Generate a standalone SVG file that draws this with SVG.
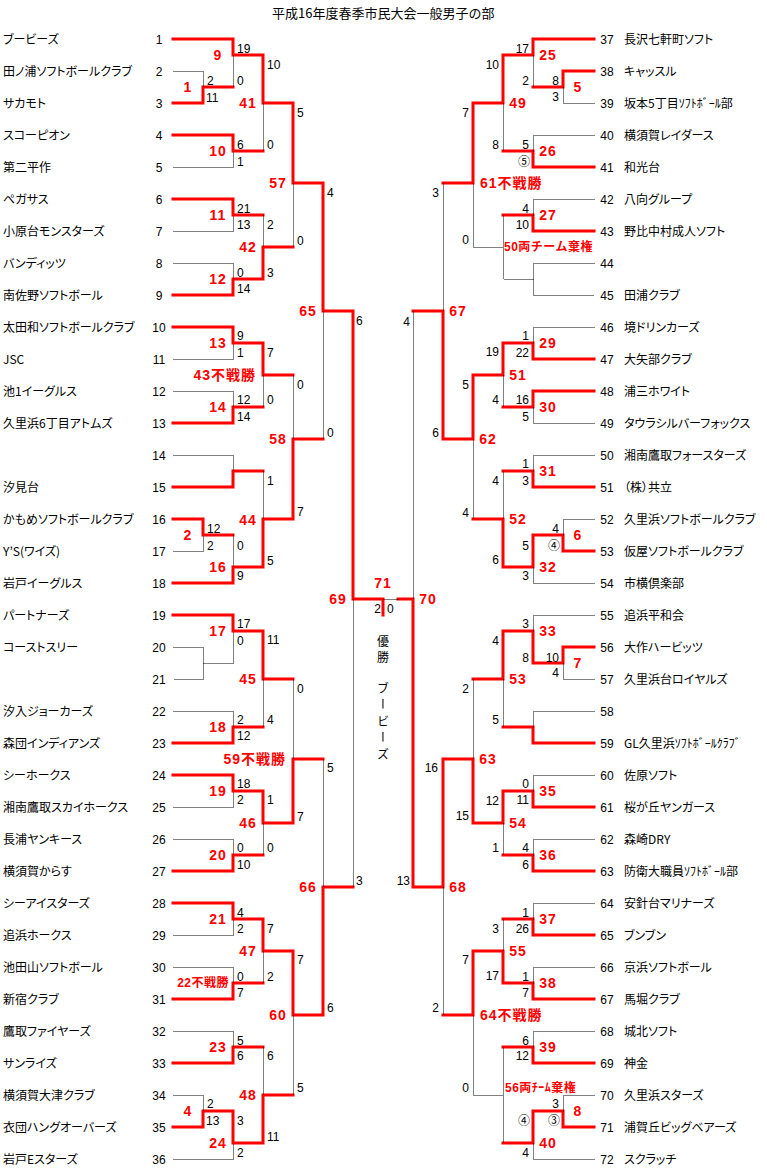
<svg xmlns="http://www.w3.org/2000/svg" width="767" height="1176" viewBox="0 0 767 1176">
<style>
.r{fill:none;stroke:#ff0000;stroke-width:3;stroke-linejoin:miter;stroke-linecap:square}
.d{fill:none;stroke:#000;stroke-width:1;stroke-dasharray:1 1}
.nm{font-family:"Noto Sans CJK JP",sans-serif;font-size:12px;font-feature-settings:"palt";fill:#000}
.no{font-family:"Liberation Sans","Noto Sans CJK JP",sans-serif;font-size:12px;text-anchor:middle;fill:#000}
.sl{font-family:"Liberation Sans","Noto Sans CJK JP",sans-serif;font-size:12px;text-anchor:start;fill:#000}
.sr{font-family:"Liberation Sans","Noto Sans CJK JP",sans-serif;font-size:12px;text-anchor:end;fill:#000}
.w{font-family:"Liberation Sans","Noto Sans CJK JP",sans-serif;font-size:14px;font-weight:bold;fill:#ff0000;letter-spacing:1px;text-anchor:middle}
.we{font-family:"Liberation Sans","Noto Sans CJK JP",sans-serif;font-size:14px;font-weight:bold;fill:#ff0000;letter-spacing:1px;text-anchor:end}
.ws{font-family:"Liberation Sans","Noto Sans CJK JP",sans-serif;font-size:14px;font-weight:bold;fill:#ff0000;letter-spacing:1px;text-anchor:start}
.sm{font-size:12px;letter-spacing:0.5px}
.t{font-family:"Noto Sans CJK JP",sans-serif;font-size:13px;fill:#000}
.v{font-family:"Noto Sans CJK JP",sans-serif;font-size:12px;fill:#000;writing-mode:vertical-rl}
</style>
<rect width="767" height="1176" fill="#fff"/>
<g id="title"><text class="t" x="272" y="18">平成16年度春季市民大会一般男子の部</text></g>

<g id="connectors">
<g id="red-lines">
<path class="r" d="M173 39H233V55H263V103H293V183H323V311H353V599H383V615"/>
<path class="r" d="M173 103H203V87H233"/>
<path class="r" d="M173 135H233V151H263"/>
<path class="r" d="M173 199H233V215H263"/>
<path class="r" d="M173 295H233V279H263V247H293"/>
<path class="r" d="M173 327H233V343H263V375H293"/>
<path class="r" d="M173 423H233V407H263"/>
<path class="r" d="M173 487H233V471H263"/>
<path class="r" d="M173 519H203V535H233"/>
<path class="r" d="M173 583H233V567H263V519H293V439H323"/>
<path class="r" d="M173 615H233V631H263V679H293"/>
<path class="r" d="M173 743H233V727H263"/>
<path class="r" d="M173 775H233V791H263V823H293V759H323"/>
<path class="r" d="M173 871H233V855H263"/>
<path class="r" d="M173 903H233V919H263V951H293V1015H323V887H353"/>
<path class="r" d="M173 999H233V983H263"/>
<path class="r" d="M173 1063H233V1047H263"/>
<path class="r" d="M173 1127H203V1111H233V1143H263V1095H293"/>
<path class="r" d="M594 39H533V55H503V103H473V183H443"/>
<path class="r" d="M594 71H563V87H533"/>
<path class="r" d="M594 167H533V151H503"/>
<path class="r" d="M594 231H533V215H503"/>
<path class="r" d="M594 359H533V343H503V375H473V439H443V311H413"/>
<path class="r" d="M594 391H533V407H503"/>
<path class="r" d="M594 487H533V471H503"/>
<path class="r" d="M594 551H563V535H533V567H503V519H473"/>
<path class="r" d="M594 647H563V663H533V631H503V679H473"/>
<path class="r" d="M594 743H533V727H503"/>
<path class="r" d="M594 807H533V791H503V823H473V759H443V887H413V599H398"/>
<path class="r" d="M594 871H533V855H503"/>
<path class="r" d="M594 935H533V919H503"/>
<path class="r" d="M594 999H533V983H503V951H473V1015H443"/>
<path class="r" d="M594 1063H533V1047H503"/>
<path class="r" d="M594 1127H563V1111H533V1143H503"/>
</g>
<g id="dotted-lines" transform="translate(0.5 0.5)">
<path class="d" d="M173 71H203V87"/>
<path class="d" d="M233 55V87"/>
<path class="d" d="M263 103V151"/>
<path class="d" d="M173 167H233V151"/>
<path class="d" d="M293 183V247"/>
<path class="d" d="M173 231H233V215"/>
<path class="d" d="M263 215V247"/>
<path class="d" d="M173 263H233V279"/>
<path class="d" d="M323 311V439"/>
<path class="d" d="M173 359H233V343"/>
<path class="d" d="M263 375V407"/>
<path class="d" d="M173 391H233V407"/>
<path class="d" d="M293 375V439"/>
<path class="d" d="M173 455H233V471"/>
<path class="d" d="M263 471V519"/>
<path class="d" d="M173 551H203V535"/>
<path class="d" d="M233 535V567"/>
<path class="d" d="M353 599V887"/>
<path class="d" d="M173 647H203V679H173M203 663H233V631"/>
<path class="d" d="M263 679V727"/>
<path class="d" d="M173 711H233V727"/>
<path class="d" d="M293 679V759"/>
<path class="d" d="M173 807H233V791"/>
<path class="d" d="M263 823V855"/>
<path class="d" d="M173 839H233V855"/>
<path class="d" d="M323 759V887"/>
<path class="d" d="M173 935H233V919"/>
<path class="d" d="M263 951V983"/>
<path class="d" d="M173 967H233V983"/>
<path class="d" d="M293 1015V1095"/>
<path class="d" d="M173 1031H233V1047"/>
<path class="d" d="M263 1047V1095"/>
<path class="d" d="M173 1095H203V1111"/>
<path class="d" d="M173 1159H233V1143"/>
<path class="d" d="M383 599H398"/>
<path class="d" d="M594 103H563V87"/>
<path class="d" d="M533 55V87"/>
<path class="d" d="M503 103V151"/>
<path class="d" d="M594 135H533V151"/>
<path class="d" d="M473 183V247H503"/>
<path class="d" d="M594 199H533V215"/>
<path class="d" d="M503 215V279"/>
<path class="d" d="M594 263H533V295H594M533 279H503"/>
<path class="d" d="M443 183V311"/>
<path class="d" d="M413 311V599"/>
<path class="d" d="M594 327H533V343"/>
<path class="d" d="M503 375V407"/>
<path class="d" d="M594 423H533V407"/>
<path class="d" d="M473 439V519"/>
<path class="d" d="M594 455H533V471"/>
<path class="d" d="M503 471V519"/>
<path class="d" d="M594 519H563V535"/>
<path class="d" d="M594 583H533V567"/>
<path class="d" d="M594 615H533V631"/>
<path class="d" d="M594 679H563V663"/>
<path class="d" d="M473 679V759"/>
<path class="d" d="M503 679V727"/>
<path class="d" d="M594 711H533V727"/>
<path class="d" d="M594 775H533V791"/>
<path class="d" d="M503 823V855"/>
<path class="d" d="M594 839H533V855"/>
<path class="d" d="M443 887V1015"/>
<path class="d" d="M594 903H533V919"/>
<path class="d" d="M503 919V951"/>
<path class="d" d="M594 967H533V983"/>
<path class="d" d="M473 1015V1095H503"/>
<path class="d" d="M594 1031H533V1047"/>
<path class="d" d="M503 1047V1143"/>
<path class="d" d="M594 1095H563V1111"/>
<path class="d" d="M594 1159H533V1143"/>
</g>
</g>

<g id="teams">
<g id="team-1"><text class="nm" x="3" y="44">ブービーズ</text><text class="no" x="159" y="44">1</text></g>
<g id="team-2"><text class="nm" x="3" y="76">田ノ浦ソフトボールクラブ</text><text class="no" x="159" y="76">2</text></g>
<g id="team-3"><text class="nm" x="3" y="108">サカモト</text><text class="no" x="159" y="108">3</text></g>
<g id="team-4"><text class="nm" x="3" y="140">スコーピオン</text><text class="no" x="159" y="140">4</text></g>
<g id="team-5"><text class="nm" x="3" y="172">第二平作</text><text class="no" x="159" y="172">5</text></g>
<g id="team-6"><text class="nm" x="3" y="204">ペガサス</text><text class="no" x="159" y="204">6</text></g>
<g id="team-7"><text class="nm" x="3" y="236">小原台モンスターズ</text><text class="no" x="159" y="236">7</text></g>
<g id="team-8"><text class="nm" x="3" y="268">バンディッツ</text><text class="no" x="159" y="268">8</text></g>
<g id="team-9"><text class="nm" x="3" y="300">南佐野ソフトボール</text><text class="no" x="159" y="300">9</text></g>
<g id="team-10"><text class="nm" x="3" y="332">太田和ソフトボールクラブ</text><text class="no" x="159" y="332">10</text></g>
<g id="team-11"><text class="nm" x="3" y="364">JSC</text><text class="no" x="159" y="364">11</text></g>
<g id="team-12"><text class="nm" x="3" y="396">池1イーグルス</text><text class="no" x="159" y="396">12</text></g>
<g id="team-13"><text class="nm" x="3" y="428">久里浜6丁目アトムズ</text><text class="no" x="159" y="428">13</text></g>
<g id="team-14"><text class="no" x="159" y="460">14</text></g>
<g id="team-15"><text class="nm" x="3" y="492">汐見台</text><text class="no" x="159" y="492">15</text></g>
<g id="team-16"><text class="nm" x="3" y="524">かもめソフトボールクラブ</text><text class="no" x="159" y="524">16</text></g>
<g id="team-17"><text class="nm" x="3" y="556">Y’S(ワイズ)</text><text class="no" x="159" y="556">17</text></g>
<g id="team-18"><text class="nm" x="3" y="588">岩戸イーグルス</text><text class="no" x="159" y="588">18</text></g>
<g id="team-19"><text class="nm" x="3" y="620">パートナーズ</text><text class="no" x="159" y="620">19</text></g>
<g id="team-20"><text class="nm" x="3" y="652">コーストスリー</text><text class="no" x="159" y="652">20</text></g>
<g id="team-21"><text class="no" x="159" y="684">21</text></g>
<g id="team-22"><text class="nm" x="3" y="716">汐入ジョーカーズ</text><text class="no" x="159" y="716">22</text></g>
<g id="team-23"><text class="nm" x="3" y="748">森団インディアンズ</text><text class="no" x="159" y="748">23</text></g>
<g id="team-24"><text class="nm" x="3" y="780">シーホークス</text><text class="no" x="159" y="780">24</text></g>
<g id="team-25"><text class="nm" x="3" y="812">湘南鷹取スカイホークス</text><text class="no" x="159" y="812">25</text></g>
<g id="team-26"><text class="nm" x="3" y="844">長浦ヤンキース</text><text class="no" x="159" y="844">26</text></g>
<g id="team-27"><text class="nm" x="3" y="876">横須賀からす</text><text class="no" x="159" y="876">27</text></g>
<g id="team-28"><text class="nm" x="3" y="908">シーアイスターズ</text><text class="no" x="159" y="908">28</text></g>
<g id="team-29"><text class="nm" x="3" y="940">追浜ホークス</text><text class="no" x="159" y="940">29</text></g>
<g id="team-30"><text class="nm" x="3" y="972">池田山ソフトボール</text><text class="no" x="159" y="972">30</text></g>
<g id="team-31"><text class="nm" x="3" y="1004">新宿クラブ</text><text class="no" x="159" y="1004">31</text></g>
<g id="team-32"><text class="nm" x="3" y="1036">鷹取ファイヤーズ</text><text class="no" x="159" y="1036">32</text></g>
<g id="team-33"><text class="nm" x="3" y="1068">サンライズ</text><text class="no" x="159" y="1068">33</text></g>
<g id="team-34"><text class="nm" x="3" y="1100">横須賀大津クラブ</text><text class="no" x="159" y="1100">34</text></g>
<g id="team-35"><text class="nm" x="3" y="1132">衣団ハングオーバーズ</text><text class="no" x="159" y="1132">35</text></g>
<g id="team-36"><text class="nm" x="3" y="1164">岩戸Eスターズ</text><text class="no" x="159" y="1164">36</text></g>
<g id="team-37"><text class="no" x="607" y="44">37</text><text class="nm" x="624" y="44">長沢七軒町ソフト</text></g>
<g id="team-38"><text class="no" x="607" y="76">38</text><text class="nm" x="624" y="76">キャッスル</text></g>
<g id="team-39"><text class="no" x="607" y="108">39</text><text class="nm" x="624" y="108">坂本5丁目ｿﾌﾄﾎﾞｰﾙ部</text></g>
<g id="team-40"><text class="no" x="607" y="140">40</text><text class="nm" x="624" y="140">横須賀レイダース</text></g>
<g id="team-41"><text class="no" x="607" y="172">41</text><text class="nm" x="624" y="172">和光台</text></g>
<g id="team-42"><text class="no" x="607" y="204">42</text><text class="nm" x="624" y="204">八向グループ</text></g>
<g id="team-43"><text class="no" x="607" y="236">43</text><text class="nm" x="624" y="236">野比中村成人ソフト</text></g>
<g id="team-44"><text class="no" x="607" y="268">44</text></g>
<g id="team-45"><text class="no" x="607" y="300">45</text><text class="nm" x="624" y="300">田浦クラブ</text></g>
<g id="team-46"><text class="no" x="607" y="332">46</text><text class="nm" x="624" y="332">境ドリンカーズ</text></g>
<g id="team-47"><text class="no" x="607" y="364">47</text><text class="nm" x="624" y="364">大矢部クラブ</text></g>
<g id="team-48"><text class="no" x="607" y="396">48</text><text class="nm" x="624" y="396">浦三ホワイト</text></g>
<g id="team-49"><text class="no" x="607" y="428">49</text><text class="nm" x="624" y="428">タウラシルバーフォックス</text></g>
<g id="team-50"><text class="no" x="607" y="460">50</text><text class="nm" x="624" y="460">湘南鷹取フォースターズ</text></g>
<g id="team-51"><text class="no" x="607" y="492">51</text><text class="nm" x="624" y="492">（株）共立</text></g>
<g id="team-52"><text class="no" x="607" y="524">52</text><text class="nm" x="624" y="524">久里浜ソフトボールクラブ</text></g>
<g id="team-53"><text class="no" x="607" y="556">53</text><text class="nm" x="624" y="556">仮屋ソフトボールクラブ</text></g>
<g id="team-54"><text class="no" x="607" y="588">54</text><text class="nm" x="624" y="588">市横倶楽部</text></g>
<g id="team-55"><text class="no" x="607" y="620">55</text><text class="nm" x="624" y="620">追浜平和会</text></g>
<g id="team-56"><text class="no" x="607" y="652">56</text><text class="nm" x="624" y="652">大作ハービッツ</text></g>
<g id="team-57"><text class="no" x="607" y="684">57</text><text class="nm" x="624" y="684">久里浜台ロイヤルズ</text></g>
<g id="team-58"><text class="no" x="607" y="716">58</text></g>
<g id="team-59"><text class="no" x="607" y="748">59</text><text class="nm" x="624" y="748">GL久里浜ｿﾌﾄﾎﾞｰﾙｸﾗﾌﾞ</text></g>
<g id="team-60"><text class="no" x="607" y="780">60</text><text class="nm" x="624" y="780">佐原ソフト</text></g>
<g id="team-61"><text class="no" x="607" y="812">61</text><text class="nm" x="624" y="812">桜が丘ヤンガース</text></g>
<g id="team-62"><text class="no" x="607" y="844">62</text><text class="nm" x="624" y="844">森崎DRY</text></g>
<g id="team-63"><text class="no" x="607" y="876">63</text><text class="nm" x="624" y="876">防衛大職員ｿﾌﾄﾎﾞｰﾙ部</text></g>
<g id="team-64"><text class="no" x="607" y="908">64</text><text class="nm" x="624" y="908">安針台マリナーズ</text></g>
<g id="team-65"><text class="no" x="607" y="940">65</text><text class="nm" x="624" y="940">ブンブン</text></g>
<g id="team-66"><text class="no" x="607" y="972">66</text><text class="nm" x="624" y="972">京浜ソフトボール</text></g>
<g id="team-67"><text class="no" x="607" y="1004">67</text><text class="nm" x="624" y="1004">馬堀クラブ</text></g>
<g id="team-68"><text class="no" x="607" y="1036">68</text><text class="nm" x="624" y="1036">城北ソフト</text></g>
<g id="team-69"><text class="no" x="607" y="1068">69</text><text class="nm" x="624" y="1068">神金</text></g>
<g id="team-70"><text class="no" x="607" y="1100">70</text><text class="nm" x="624" y="1100">久里浜スターズ</text></g>
<g id="team-71"><text class="no" x="607" y="1132">71</text><text class="nm" x="624" y="1132">浦賀丘ビッグベアーズ</text></g>
<g id="team-72"><text class="no" x="607" y="1164">72</text><text class="nm" x="624" y="1164">スクラッチ</text></g>
</g>

<g id="matches">
<g id="m1"><text class="w" x="188" y="92">1</text></g>
<g id="m2"><text class="w" x="188" y="540">2</text></g>
<g id="m4"><text class="w" x="188" y="1116">4</text></g>
<g id="m9"><text class="w" x="218" y="60">9</text></g>
<g id="m10"><text class="w" x="218" y="156">10</text></g>
<g id="m11"><text class="w" x="218" y="220">11</text></g>
<g id="m12"><text class="w" x="218" y="284">12</text></g>
<g id="m13"><text class="w" x="218" y="348">13</text></g>
<g id="m14"><text class="w" x="218" y="412">14</text></g>
<g id="m16"><text class="w" x="218" y="572">16</text></g>
<g id="m17"><text class="w" x="218" y="636">17</text></g>
<g id="m18"><text class="w" x="218" y="732">18</text></g>
<g id="m19"><text class="w" x="218" y="796">19</text></g>
<g id="m20"><text class="w" x="218" y="860">20</text></g>
<g id="m21"><text class="w" x="218" y="924">21</text></g>
<g id="m22"><text class="we sm" x="229" y="987">22不戦勝</text></g>
<g id="m23"><text class="w" x="218" y="1052">23</text></g>
<g id="m24"><text class="w" x="218" y="1148">24</text></g>
<g id="m41"><text class="w" x="248" y="108">41</text></g>
<g id="m42"><text class="w" x="248" y="252">42</text></g>
<g id="m43"><text class="we" x="256" y="380">43不戦勝</text></g>
<g id="m44"><text class="w" x="248" y="525">44</text></g>
<g id="m45"><text class="w" x="248" y="684">45</text></g>
<g id="m46"><text class="w" x="248" y="828">46</text></g>
<g id="m47"><text class="w" x="248" y="956">47</text></g>
<g id="m48"><text class="w" x="248" y="1100">48</text></g>
<g id="m57"><text class="w" x="278" y="188">57</text></g>
<g id="m58"><text class="w" x="278" y="444">58</text></g>
<g id="m59"><text class="we" x="286" y="764">59不戦勝</text></g>
<g id="m60"><text class="w" x="278" y="1020">60</text></g>
<g id="m65"><text class="w" x="308" y="316">65</text></g>
<g id="m66"><text class="w" x="308" y="892">66</text></g>
<g id="m69"><text class="w" x="338" y="604">69</text></g>
<g id="m71"><text class="w" x="383" y="588">71</text></g>
<g id="m70"><text class="w" x="428" y="604">70</text></g>
<g id="m67"><text class="w" x="458" y="316">67</text></g>
<g id="m62"><text class="w" x="488" y="444">62</text></g>
<g id="m63"><text class="w" x="488" y="764">63</text></g>
<g id="m68"><text class="w" x="458" y="892">68</text></g>
<g id="m61"><text class="ws" x="480" y="188">61不戦勝</text></g>
<g id="m64"><text class="ws" x="480" y="1020">64不戦勝</text></g>
<g id="m49"><text class="w" x="518" y="108">49</text></g>
<g id="m50"><text class="ws sm" x="504" y="251">50両チーム棄権</text></g>
<g id="m51"><text class="w" x="518" y="380">51</text></g>
<g id="m52"><text class="w" x="518" y="524">52</text></g>
<g id="m53"><text class="w" x="518" y="684">53</text></g>
<g id="m54"><text class="w" x="518" y="828">54</text></g>
<g id="m55"><text class="w" x="518" y="956">55</text></g>
<g id="m56"><text class="ws sm" x="505" y="1092">56両ﾁｰﾑ棄権</text></g>
<g id="m25"><text class="w" x="548" y="60">25</text></g>
<g id="m26"><text class="w" x="548" y="156">26</text></g>
<g id="m27"><text class="w" x="548" y="220">27</text></g>
<g id="m29"><text class="w" x="548" y="348">29</text></g>
<g id="m30"><text class="w" x="548" y="412">30</text></g>
<g id="m31"><text class="w" x="548" y="476">31</text></g>
<g id="m32"><text class="w" x="548" y="572">32</text></g>
<g id="m33"><text class="w" x="548" y="636">33</text></g>
<g id="m35"><text class="w" x="548" y="796">35</text></g>
<g id="m36"><text class="w" x="548" y="860">36</text></g>
<g id="m37"><text class="w" x="548" y="924">37</text></g>
<g id="m38"><text class="w" x="548" y="988">38</text></g>
<g id="m39"><text class="w" x="548" y="1052">39</text></g>
<g id="m40"><text class="w" x="548" y="1148">40</text></g>
<g id="m5"><text class="w" x="578" y="92">5</text></g>
<g id="m6"><text class="w" x="578" y="540">6</text></g>
<g id="m7"><text class="w" x="578" y="668">7</text></g>
<g id="m8"><text class="w" x="578" y="1116">8</text></g>
</g>

<g id="scores">
<text class="sl" x="237" y="53">19</text>
<text class="sl" x="237" y="85">0</text>
<text class="sl" x="207" y="85">2</text>
<text class="sl" x="206" y="102">11</text>
<text class="sl" x="267" y="69">10</text>
<text class="sl" x="297" y="117">5</text>
<text class="sl" x="237" y="149">6</text>
<text class="sl" x="237" y="166">1</text>
<text class="sl" x="267" y="149">0</text>
<text class="sl" x="327" y="197">4</text>
<text class="sl" x="237" y="213">21</text>
<text class="sl" x="237" y="229">13</text>
<text class="sl" x="267" y="229">2</text>
<text class="sl" x="297" y="245">0</text>
<text class="sl" x="267" y="277">3</text>
<text class="sl" x="237" y="277">0</text>
<text class="sl" x="237" y="293">14</text>
<text class="sl" x="356" y="325">6</text>
<text class="sl" x="237" y="340">9</text>
<text class="sl" x="237" y="357">1</text>
<text class="sl" x="267" y="357">7</text>
<text class="sl" x="297" y="389">0</text>
<text class="sl" x="237" y="404">12</text>
<text class="sl" x="267" y="404">0</text>
<text class="sl" x="237" y="421">14</text>
<text class="sl" x="327" y="437">0</text>
<text class="sl" x="267" y="485">1</text>
<text class="sl" x="207" y="533">12</text>
<text class="sl" x="207" y="550">2</text>
<text class="sl" x="237" y="550">0</text>
<text class="sl" x="237" y="580">9</text>
<text class="sl" x="267" y="565">5</text>
<text class="sl" x="297" y="516">7</text>
<text class="sl" x="237" y="628">17</text>
<text class="sl" x="237" y="645">0</text>
<text class="sl" x="267" y="644">11</text>
<text class="sl" x="297" y="693">0</text>
<text class="sl" x="237" y="724">2</text>
<text class="sl" x="267" y="724">4</text>
<text class="sl" x="237" y="740">12</text>
<text class="sl" x="327" y="772">5</text>
<text class="sl" x="237" y="788">18</text>
<text class="sl" x="237" y="804">2</text>
<text class="sl" x="267" y="804">1</text>
<text class="sl" x="297" y="821">7</text>
<text class="sl" x="237" y="852">0</text>
<text class="sl" x="267" y="852">0</text>
<text class="sl" x="237" y="869">10</text>
<text class="sl" x="356" y="885">3</text>
<text class="sl" x="237" y="917">4</text>
<text class="sl" x="237" y="933">2</text>
<text class="sl" x="267" y="933">7</text>
<text class="sl" x="297" y="964">7</text>
<text class="sl" x="237" y="981">0</text>
<text class="sl" x="267" y="981">2</text>
<text class="sl" x="237" y="997">7</text>
<text class="sl" x="327" y="1012">6</text>
<text class="sl" x="237" y="1045">5</text>
<text class="sl" x="237" y="1060">6</text>
<text class="sl" x="267" y="1060">6</text>
<text class="sl" x="297" y="1092">5</text>
<text class="sl" x="207" y="1108">2</text>
<text class="sl" x="206" y="1125">13</text>
<text class="sl" x="237" y="1125">3</text>
<text class="sl" x="267" y="1141">11</text>
<text class="sl" x="237" y="1157">2</text>
<text class="sr" x="381" y="613">2</text>
<text class="sl" x="387" y="613">0</text>
<text class="sr" x="529" y="53">17</text>
<text class="sr" x="499" y="69">10</text>
<text class="sr" x="529" y="85">2</text>
<text class="sr" x="559" y="85">8</text>
<text class="sr" x="559" y="101">3</text>
<text class="sr" x="469" y="117">7</text>
<text class="sr" x="529" y="149">5</text>
<text class="sr" x="499" y="149">8</text>
<text class="sr" x="530" y="166">⑤</text>
<text class="sr" x="439" y="197">3</text>
<text class="sr" x="469" y="244">0</text>
<text class="sr" x="529" y="213">4</text>
<text class="sr" x="529" y="229">10</text>
<text class="sr" x="410" y="326">4</text>
<text class="sr" x="529" y="340">1</text>
<text class="sr" x="499" y="356">19</text>
<text class="sr" x="529" y="357">22</text>
<text class="sr" x="469" y="389">5</text>
<text class="sr" x="529" y="404">16</text>
<text class="sr" x="499" y="404">4</text>
<text class="sr" x="529" y="421">5</text>
<text class="sr" x="439" y="437">6</text>
<text class="sr" x="529" y="468">1</text>
<text class="sr" x="529" y="485">3</text>
<text class="sr" x="499" y="485">4</text>
<text class="sr" x="469" y="517">4</text>
<text class="sr" x="559" y="533">4</text>
<text class="sr" x="529" y="550">5</text>
<text class="sr" x="560" y="550">④</text>
<text class="sr" x="499" y="564">6</text>
<text class="sr" x="529" y="580">3</text>
<text class="sr" x="529" y="628">3</text>
<text class="sr" x="499" y="645">4</text>
<text class="sr" x="529" y="662">8</text>
<text class="sr" x="559" y="662">10</text>
<text class="sr" x="559" y="677">4</text>
<text class="sr" x="469" y="693">2</text>
<text class="sr" x="499" y="724">5</text>
<text class="sr" x="438" y="772">16</text>
<text class="sr" x="529" y="788">0</text>
<text class="sr" x="499" y="805">12</text>
<text class="sr" x="529" y="804">11</text>
<text class="sr" x="469" y="820">15</text>
<text class="sr" x="499" y="852">1</text>
<text class="sr" x="529" y="852">4</text>
<text class="sr" x="529" y="869">6</text>
<text class="sr" x="410" y="885">13</text>
<text class="sr" x="529" y="917">1</text>
<text class="sr" x="499" y="933">3</text>
<text class="sr" x="529" y="933">26</text>
<text class="sr" x="469" y="964">7</text>
<text class="sr" x="499" y="980">17</text>
<text class="sr" x="529" y="981">1</text>
<text class="sr" x="529" y="997">7</text>
<text class="sr" x="439" y="1012">2</text>
<text class="sr" x="529" y="1045">6</text>
<text class="sr" x="529" y="1060">12</text>
<text class="sr" x="469" y="1092">0</text>
<text class="sr" x="559" y="1108">3</text>
<text class="sr" x="560" y="1125">③</text>
<text class="sr" x="530" y="1125">④</text>
<text class="sr" x="529" y="1157">4</text>
</g>

<g id="champion">
<text class="v" x="383" y="635" style="letter-spacing:4px">優勝</text>
<text class="v" x="383" y="682" style="letter-spacing:4.5px">ブービーズ</text>
</g>
</svg>
